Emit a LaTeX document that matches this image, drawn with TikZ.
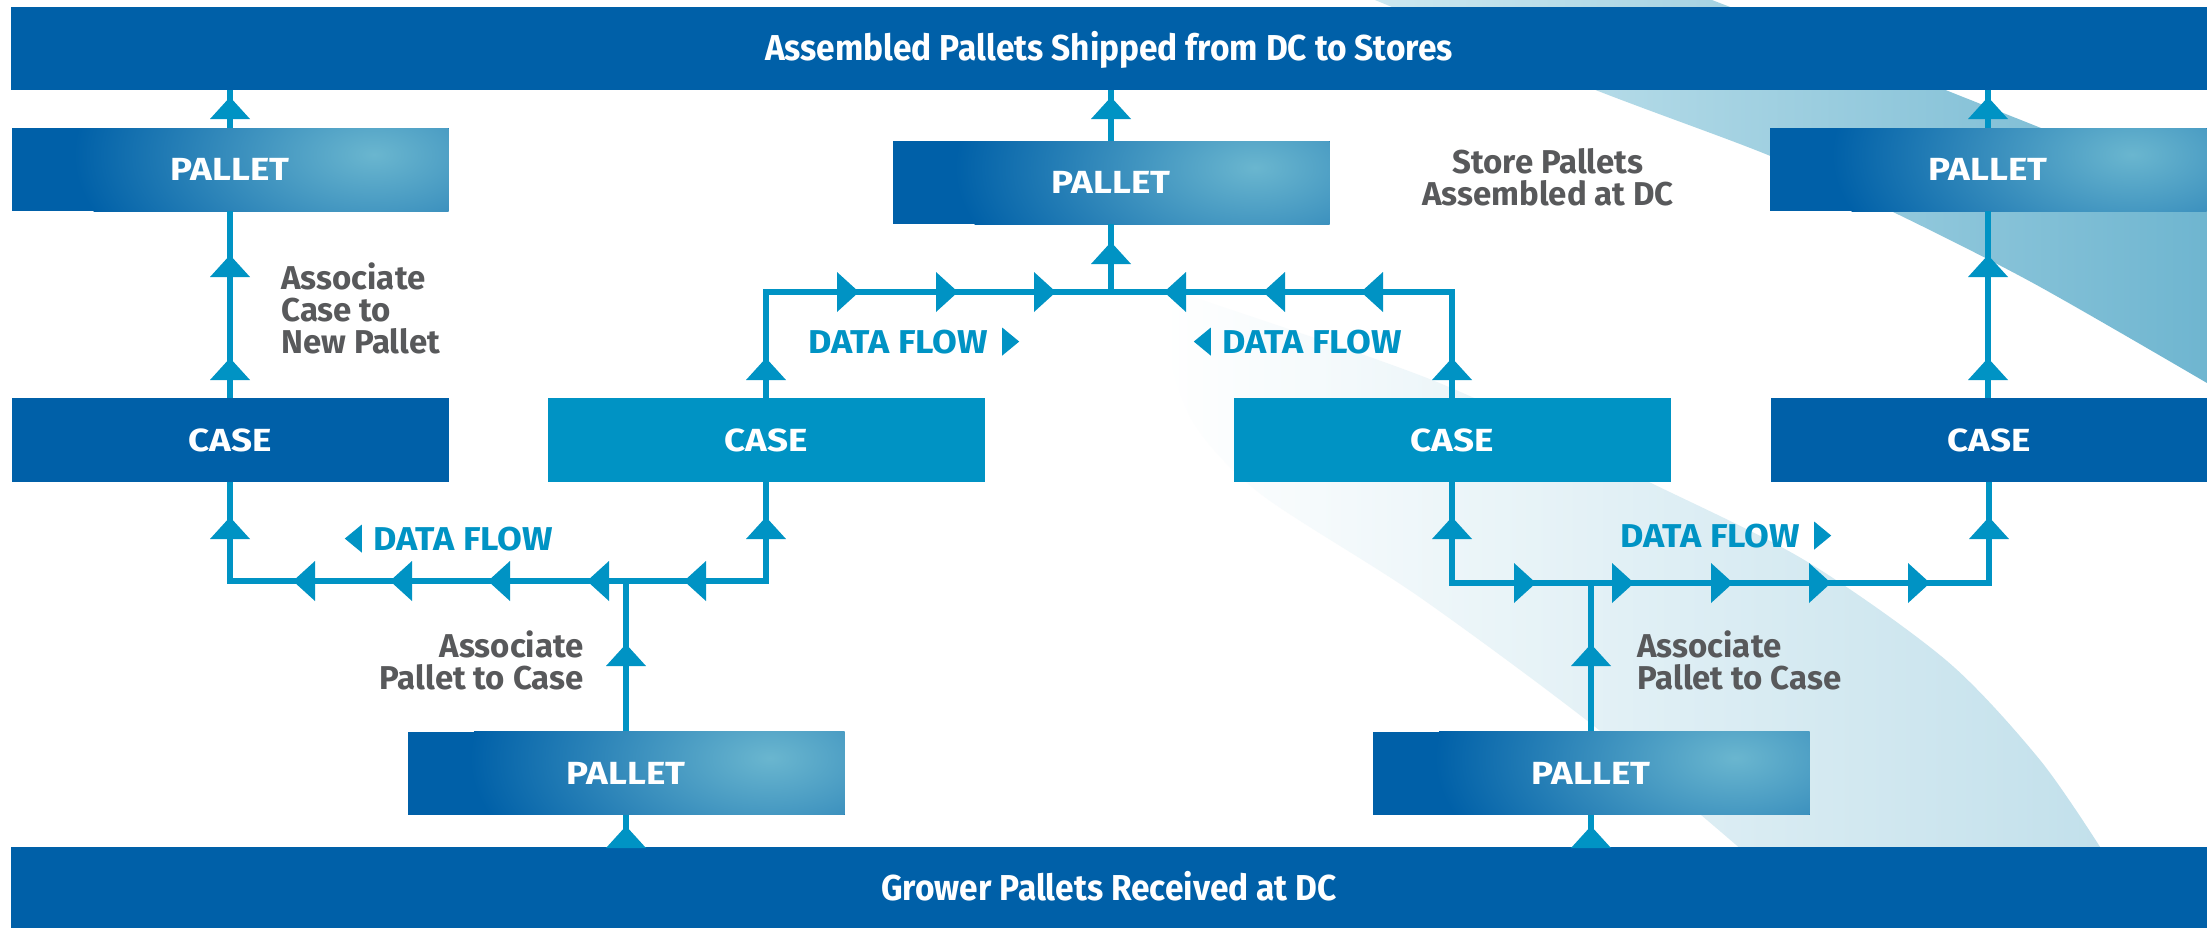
\documentclass[tikz,border=0pt]{standalone}
\usepackage{fontspec}
\setmainfont{Fira Sans}
\newfontfamily\barfont{Fira Sans}[FakeStretch=0.93]
\newfontfamily\boxfont{Fira Sans}[FakeStretch=1.15]
\newfontfamily\dffont{Fira Sans}[FakeStretch=1.09]
\usetikzlibrary{calc}
\definecolor{darkb}{HTML}{0060A8}
\definecolor{lightb}{HTML}{0093C4}
\definecolor{acol}{HTML}{0093C4}
\definecolor{greyt}{HTML}{58595B}
\definecolor{spotc}{HTML}{6AB6CF}
\definecolor{bandA}{HTML}{CDE8F0}
\definecolor{bandB}{HTML}{6CB4CF}
\definecolor{bandC}{HTML}{C2E0EB}
\newcommand\tipU[2]{\fill[acol] (#1,#2) -- ++(-20,22) -- ++(40,0) -- cycle;}
\newcommand\tipL[2]{\fill[acol] (#1,#2) -- ++(22,-20) -- ++(0,40) -- cycle;}
\newcommand\tipR[2]{\fill[acol] (#1,#2) -- ++(-22,-20) -- ++(0,40) -- cycle;}
\newcommand\palletbg[2]{\begin{scope}[shift={(#1,#2)}]
  \fill[darkb] (-218.5,-41.5) rectangle (218.5,41.5);
  \clip (-218.5,-41.5) rectangle (218.5,41.5);
  \shade[inner color=spotc, outer color=darkb] (144,-15) ellipse (150pt and 80pt);
  \end{scope}}
\begin{document}
\begin{tikzpicture}[x=0.5pt,y=-0.5pt,
  bar/.style={fill=darkb, text=white, minimum width=1098pt, inner sep=0pt, text height=12.5pt, text depth=0pt, font=\fontsize{18}{20}\selectfont\barfont\bfseries},
  dbox/.style={fill=darkb, text=white, minimum width=218.5pt, minimum height=41.5pt, inner sep=0pt, text height=11pt, text depth=0pt, font=\fontsize{16}{18}\selectfont\boxfont\bfseries},
  lbox/.style={dbox, fill=lightb, minimum height=42pt},
  cbox/.style={dbox, minimum height=42pt},
  pbox/.style={dbox, fill=none},
  conn/.style={draw=acol, line width=3pt},
  glabel/.style={text=greyt, font=\fontsize{16.5}{16}\selectfont\bfseries, inner sep=0pt},
  dflow/.style={text=lightb, font=\fontsize{16.5}{18}\selectfont\dffont\bfseries, inner sep=0pt}]
\useasboundingbox (0,0) rectangle (2207,928);
\fill[white] (0,0) rectangle (2207,928);
% background swooshes
\begin{scope}
\clip (0,0) rectangle (2207,928);
\shade[left color=bandA, right color=bandB] plot[smooth] coordinates {(1375,0) (1593,89) (1768,155) (1891,211) (2033,283) (2207,383)} -- (2230,383) -- (2230,194) -- (2041,128) -- (1943,89) -- (1712,0) -- cycle;
\shade[left color=white, right color=bandC] plot[smooth] coordinates {(1165,288) (1432,380) (1651,483) (1806,561) (1947,661) (2040,760) (2102,850)} -- plot[smooth] coordinates {(1742,850) (1594,726) (1418,596) (1262,495) (1195,425) (1168,350) (1165,288)} -- cycle;
\end{scope}
% bars
\node[bar, minimum height=41.5pt] (top) at (1109,48) {Assembled Pallets Shipped from DC to Stores};
\node[bar, minimum height=40.5pt] (bottom) at (1109,887.5) {Grower Pallets Received at DC};
% pallet box backgrounds (dark blue with light spot)
\palletbg{230}{169.5}
\palletbg{1111}{182.5}
\palletbg{1988}{169.5}
\palletbg{626}{773}
\palletbg{1591}{773}
% boxes
\node[pbox] (pTL) at (230,169.5) {PALLET};
\node[pbox] (pTC) at (1111,182.5) {PALLET};
\node[pbox] (pTR) at (1988,169.5) {PALLET};
\node[cbox] (cL) at (230,440) {CASE};
\node[lbox] (cLL) at (766,440) {CASE};
\node[lbox] (cRL) at (1452,440) {CASE};
\node[cbox] (cR) at (1989,440) {CASE};
\node[pbox] (pBL) at (626,773) {PALLET};
\node[pbox] (pBR) at (1591,773) {PALLET};
% bus junctions
\coordinate (ub) at (1111,292);
\coordinate (lb) at (626,581);
\coordinate (rb) at (1591,583);
% connectors
\draw[conn] (cL.north) -- (pTL.south);
\draw[conn] (pTL.north) -- (pTL.north |- top.south);
\draw[conn] (pTC.north) -- (pTC.north |- top.south);
\draw[conn] (cR.north -| pTR.south) -- (pTR.south);
\draw[conn] (pTR.north) -- (pTR.north |- top.south);
\draw[conn] (cLL.north) -- (cLL.north |- ub) -- (cRL.north |- ub) -- (cRL.north);
\draw[conn] (ub) -- (pTC.south);
\draw[conn] (cL.south) -- (cL.south |- lb) -- (cLL.south |- lb) -- (cLL.south);
\draw[conn] (pBL.north) -- (lb);
\draw[conn] (pBL.south) -- (pBL.south |- bottom.north);
\draw[conn] (cRL.south) -- (cRL.south |- rb) -- (cR.south |- rb) -- (cR.south);
\draw[conn] (pBR.north) -- (rb);
\draw[conn] (pBR.south) -- (pBR.south |- bottom.north);
% arrowheads
\tipU{230}{97}\tipU{230}{255}\tipU{230}{358}\tipU{230}{517}
\tipU{1111}{97}\tipU{1111}{242}
\tipU{1988}{97}\tipU{1988}{255}\tipU{1988}{358}\tipU{1989}{517}
\tipU{766}{358}\tipU{766}{517}
\tipU{1452}{358}\tipU{1452}{517}
\tipU{626}{644}\tipU{626}{826}
\tipU{1591}{644}\tipU{1591}{826}
\tipL{293}{581}\tipL{390}{581}\tipL{488}{581}\tipL{587}{581}\tipL{684}{581}
\tipR{859}{292}\tipR{958}{292}\tipR{1056}{292}
\tipL{1164}{292}\tipL{1263}{292}\tipL{1361}{292}
\tipR{1536}{583}\tipR{1634}{583}\tipR{1733}{583}\tipR{1831}{583}\tipR{1930}{583}
% grey labels
\node[glabel, anchor=north west, align=left] (lab1) at (281,262) {Associate\\Case to\\New Pallet};
\node[glabel, anchor=north east, align=right] (lab2) at (584,630) {Associate\\Pallet to Case};
\node[glabel, anchor=north west, align=left] (lab3) at (1637,630) {Associate\\Pallet to Case};
\node[glabel, anchor=north, align=center] (lab4) at (1548,148) {Store Pallets\\Assembled at DC};
% data flow labels
\node[dflow, anchor=base] (df1) at (898,353) {DATA FLOW};
\fill[acol] ($(df1.east)+(14,-14)$) -- ++(17,14) -- ++(-17,14) -- cycle;
\node[dflow, anchor=base] (df2) at (1312,353) {DATA FLOW};
\fill[acol] ($(df2.west)+(-28,0)$) -- ++(17,-14) -- ++(0,28) -- cycle;
\node[dflow, anchor=base] (df3) at (463,550) {DATA FLOW};
\fill[acol] ($(df3.west)+(-28,0)$) -- ++(17,-14) -- ++(0,28) -- cycle;
\node[dflow, anchor=base] (df4) at (1710,547) {DATA FLOW};
\fill[acol] ($(df4.east)+(14,-14)$) -- ++(17,14) -- ++(-17,14) -- cycle;
\end{tikzpicture}
\end{document}
